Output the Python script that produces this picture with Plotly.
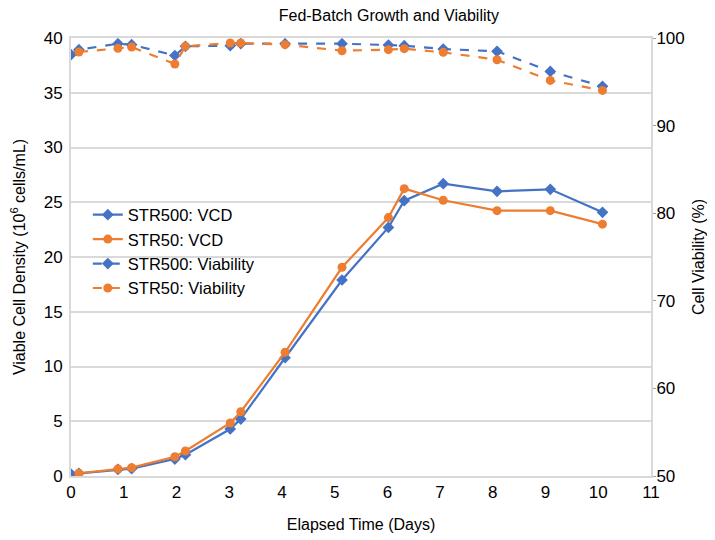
import plotly.graph_objects as go

days = [0, 0.15, 0.89, 1.15, 1.97, 2.17, 3.02, 3.22, 4.06, 5.14, 6.02, 6.32, 7.06, 8.08, 9.09, 10.08]
str500_vcd = [0.18, 0.25, 0.6, 0.67, 1.55, 1.95, 4.29, 5.2, 10.8, 17.9, 22.7, 25.14, 26.7, 26.0, 26.18, 24.08]
str50_vcd = [None, 0.25, 0.64, 0.76, 1.76, 2.28, 4.84, 5.87, 11.3, 19.06, 23.6, 26.24, 25.18, 24.23, 24.23, 23.0]
str500_via = [98.1, 98.67, 99.35, 99.24, 98.0, 99.05, 99.12, 99.35, 99.35, 99.35, 99.2, 99.12, 98.74, 98.48, 96.19, 94.48]
str50_via = [None, 98.4, 98.82, 98.97, 97.03, 99.05, 99.43, 99.43, 99.24, 98.55, 98.67, 98.78, 98.36, 97.52, 95.16, 94.02]

BLUE = "#4472C4"
ORANGE = "#ED7D31"
GRID = "#D9D9D9"
FONT = "Liberation Sans, Arial, sans-serif"

fig = go.Figure()
fig.add_trace(go.Scatter(x=days, y=str500_vcd, name="STR500: VCD", mode="lines+markers",
                         line=dict(color=BLUE, width=2.2),
                         marker=dict(symbol="diamond", size=9, color=BLUE)))
fig.add_trace(go.Scatter(x=days, y=str50_vcd, name="STR50: VCD", mode="lines+markers",
                         line=dict(color=ORANGE, width=2.2),
                         marker=dict(symbol="circle", size=9, color=ORANGE)))
fig.add_trace(go.Scatter(x=days, y=str500_via, name="STR500: Viability", mode="lines+markers",
                         yaxis="y2", line=dict(color=BLUE, width=2.2, dash="dash"),
                         marker=dict(symbol="diamond", size=9, color=BLUE)))
fig.add_trace(go.Scatter(x=days, y=str50_via, name="STR50: Viability", mode="lines+markers",
                         yaxis="y2", line=dict(color=ORANGE, width=2.2, dash="dash"),
                         marker=dict(symbol="circle", size=9, color=ORANGE)))

# page body has an 8px margin, so the figure is sized 707x532 and offset accordingly
fig.update_layout(
    width=707, height=532,
    margin=dict(l=63, r=64, t=30, b=64, autoexpand=False),
    paper_bgcolor="white", plot_bgcolor="white",
    font=dict(family=FONT, size=16, color="#000000"),
    title=dict(text="Fed-Batch Growth and Viability", xref="paper", x=0.548, xanchor="center",
               yref="container", y=0.986, yanchor="middle", font=dict(size=16)),
    xaxis=dict(range=[0, 11], dtick=1, tick0=0, showgrid=False, zeroline=False,
               showline=True, linecolor=GRID, linewidth=2, mirror=True,
               ticks="", tickfont=dict(size=17), automargin=False,
               title=dict(text="Elapsed Time (Days)", standoff=17, font=dict(size=16))),
    yaxis=dict(range=[0, 40], dtick=5, tick0=0, showgrid=True, gridcolor=GRID, gridwidth=2,
               zeroline=False, showline=True, linecolor=GRID, linewidth=2,
               ticks="", ticklabelstandoff=3, tickfont=dict(size=17), automargin=False,
               title=dict(text="Viable Cell Density (10<sup>6</sup> cells/mL)", standoff=14,
                          font=dict(size=16))),
    yaxis2=dict(range=[50, 100], dtick=10, tick0=50, overlaying="y", side="right",
                showgrid=False, zeroline=False, showline=True, linecolor=GRID, linewidth=2,
                ticks="outside", ticklen=3, tickcolor="#A0A0A0", tickfont=dict(size=17),
                ticklabelstandoff=-3, automargin=False,
                title=dict(text="Cell Viability (%)", standoff=9, font=dict(size=16))),
    legend=dict(x=0.029, y=0.636, xanchor="left", yanchor="top", bgcolor="rgba(0,0,0,0)",
                font=dict(size=16.5), tracegroupgap=0, itemwidth=30),
    showlegend=True,
)

fig.write_html("out.html")
